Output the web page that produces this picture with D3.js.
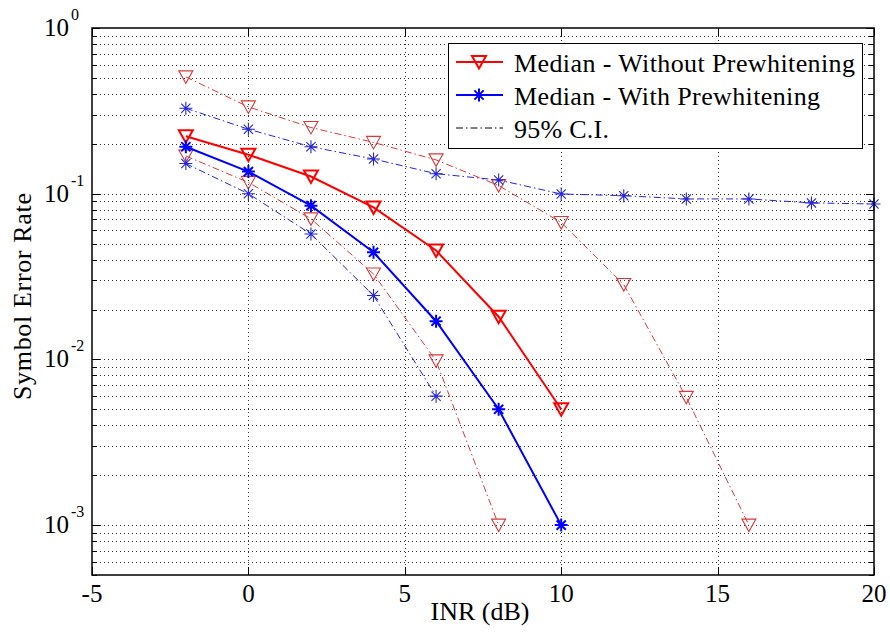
<!DOCTYPE html>
<html>
<head>
<meta charset="utf-8">
<script src="https://cdn.jsdelivr.net/npm/d3@7"></script>
<style>
  html, body { margin: 0; padding: 0; background: #fff; }
  svg { display: block; font-family: "Liberation Serif", "Times New Roman", serif; }
</style>
</head>
<body>
<svg id="chart" width="890" height="638"></svg>
<script>
// INR values (dB) at which the symbol error rate was measured
const inrMedian = [-2, 0, 2, 4, 6, 8, 10];
const medianWithout = [0.222, 0.172, 0.127, 0.0827, 0.0454, 0.0181, 0.0050];
const medianWith = [0.192, 0.136, 0.0847, 0.0443, 0.0170, 0.0050, 0.0010];

// 95% confidence interval bounds
const inrCiWithoutUpper = [-2, 0, 2, 4, 6, 8, 10, 12, 14, 16];
const ciWithoutUpper = [0.507, 0.334, 0.251, 0.204, 0.160, 0.112, 0.067, 0.0283, 0.0059, 0.0010];
const inrCiWithoutLower = [-2, 0, 2, 4, 6, 8];
const ciWithoutLower = [0.169, 0.117, 0.0705, 0.0328, 0.0098, 0.0010];
const inrCiWithUpper = [-2, 0, 2, 4, 6, 8, 10, 12, 14, 16, 18, 20];
const ciWithUpper = [0.328, 0.245, 0.192, 0.162, 0.132, 0.121, 0.0996, 0.0973, 0.093, 0.093, 0.088, 0.0867];
const inrCiWithLower = [-2, 0, 2, 4, 6];
const ciWithLower = [0.152, 0.100, 0.0571, 0.0243, 0.0060];

// Axis ticks
const xTicks = [-5, 0, 5, 10, 15, 20];
const yDecades = [0, -1, -2, -3];
const legendLabels = ["Median - Without Prewhitening", "Median - With Prewhitening", "95% C.I."];
const legendWidths = [341, 306, 95];

const RED = "#ff0000", BLUE = "#0000ff", CI_RED = "#d63a3a", CI_BLUE = "#2424d8";

const svg = d3.select("#chart");
const L = 92, R = 874, T = 28, B = 575;

const x = d3.scaleLinear().domain([-5, 20]).range([L, R]);
const y = d3.scaleLog().domain([5e-4, 1]).range([B, T]);

// Grid lines: every minor/major decade step and every x tick
const yGridVals = [];
for (let e = -4; e <= 0; e++) {
  for (let m = 1; m <= 9; m++) {
    const v = m * Math.pow(10, e);
    if (v >= 5e-4 - 1e-12 && v <= 1 + 1e-12) yGridVals.push(v);
  }
}
const grid = svg.append("g").attr("stroke", "#000").attr("stroke-width", 1)
  .attr("stroke-dasharray", "1,3").attr("fill", "none").attr("opacity", 0.8);
grid.selectAll("line.h").data(yGridVals.filter(v => v > 5e-4 + 1e-9 && v < 1 - 1e-9)).join("line")
  .attr("x1", L).attr("x2", R).attr("y1", d => Math.round(y(d)) + 0.5).attr("y2", d => Math.round(y(d)) + 0.5);
grid.selectAll("line.v").data(xTicks.slice(1, -1)).join("line")
  .attr("y1", T).attr("y2", B).attr("x1", d => Math.round(x(d)) + 0.5).attr("x2", d => Math.round(x(d)) + 0.5);

// Axis ticks (inside, mirrored on all sides)
const ticks = svg.append("g").attr("stroke", "#000").attr("stroke-width", 1);
xTicks.forEach(v => {
  const px = Math.round(x(v)) + 0.5;
  ticks.append("line").attr("x1", px).attr("x2", px).attr("y1", B).attr("y2", B - 8);
  ticks.append("line").attr("x1", px).attr("x2", px).attr("y1", T).attr("y2", T + 8);
});
yGridVals.forEach(v => {
  const py = Math.round(y(v)) + 0.5;
  const major = Math.abs(Math.log10(v) - Math.round(Math.log10(v))) < 1e-9;
  const len = major ? 8 : 5;
  ticks.append("line").attr("x1", L).attr("x2", L + len).attr("y1", py).attr("y2", py);
  ticks.append("line").attr("x1", R).attr("x2", R - len).attr("y1", py).attr("y2", py);
});

// Markers
function triangle(g, cx, cy, color, sw) {
  g.append("path")
    .attr("d", `M${cx - 7},${cy - 6}L${cx + 7},${cy - 6}L${cx},${cy + 6.5}Z`)
    .attr("fill", "none").attr("stroke", color).attr("stroke-width", sw)
    .attr("stroke-linejoin", "miter");
}
function star(g, cx, cy, color, sw, r) {
  const d = r * Math.SQRT1_2;
  g.append("path")
    .attr("d", `M${cx - r},${cy}L${cx + r},${cy}M${cx},${cy - r}L${cx},${cy + r}` +
               `M${cx - d},${cy - d}L${cx + d},${cy + d}M${cx - d},${cy + d}L${cx + d},${cy - d}`)
    .attr("fill", "none").attr("stroke", color).attr("stroke-width", sw);
}

const line = d3.line().x(d => x(d[0])).y(d => y(d[1]));
const DASHDOT = "7,3,1.5,3";

function series(xs, ys, color, sw, dash, marker, msw) {
  const pts = xs.map((v, i) => [v, ys[i]]);
  const g = svg.append("g");
  g.append("path").datum(pts).attr("d", line).attr("fill", "none")
    .attr("stroke", color).attr("stroke-width", sw)
    .attr("stroke-dasharray", dash || null);
  pts.forEach(p => {
    if (marker === "tri") triangle(g, x(p[0]), y(p[1]), color, msw);
    else star(g, x(p[0]), y(p[1]), color, msw, 6.5);
  });
}

// Confidence-interval curves (thin dash-dot)
series(inrCiWithoutUpper, ciWithoutUpper, CI_RED, 1, DASHDOT, "tri", 1.1);
series(inrCiWithoutLower, ciWithoutLower, CI_RED, 1, DASHDOT, "tri", 1.1);
series(inrCiWithUpper, ciWithUpper, CI_BLUE, 1, DASHDOT, "star", 1.1);
series(inrCiWithLower, ciWithLower, CI_BLUE, 1, DASHDOT, "star", 1.1);

// Median curves (solid)
series(inrMedian, medianWithout, RED, 2, null, "tri", 2);
series(inrMedian, medianWith, BLUE, 2, null, "star", 2);

// Axes box
svg.append("rect").attr("x", L).attr("y", T).attr("width", R - L).attr("height", B - T)
  .attr("fill", "none").attr("stroke", "#000").attr("stroke-width", 1.5);

// X tick labels
svg.append("g").selectAll("text").data(xTicks).join("text")
  .attr("x", d => x(d)).attr("y", B + 27).attr("text-anchor", "middle")
  .attr("font-size", 25).text(d => d);

// Y tick labels: 10 with superscript exponent
yDecades.forEach(e => {
  const py = y(Math.pow(10, e));
  svg.append("text").attr("x", 69).attr("y", py + 8).attr("text-anchor", "end")
    .attr("font-size", 25).text("10");
  svg.append("text").attr("x", 71).attr("y", py - 8).attr("text-anchor", "start")
    .attr("font-size", 16).text(e);
});

// Axis titles
svg.append("text").attr("x", (L + R) / 2 - 3).attr("y", 620).attr("text-anchor", "middle")
  .attr("font-size", 26).text("INR (dB)");
svg.append("text").attr("transform", `translate(31,${(T + B) / 2 - 5}) rotate(-90)`)
  .attr("text-anchor", "middle").attr("font-size", 26)
  .attr("textLength", 207).attr("lengthAdjust", "spacing").text("Symbol Error Rate");

// Legend
const lg = svg.append("g");
lg.append("rect").attr("x", 448.5).attr("y", 43.5).attr("width", 414).attr("height", 105)
  .attr("fill", "#fff").attr("stroke", "#000").attr("stroke-width", 1);
const rows = [
  { color: RED, sw: 2, dash: null, marker: "tri" },
  { color: BLUE, sw: 2, dash: null, marker: "star" },
  { color: "#000", sw: 1, dash: DASHDOT, marker: null }
];
rows.forEach((r, i) => {
  const cy = 62 + i * 33;
  lg.append("line").attr("x1", 456).attr("x2", 503).attr("y1", cy).attr("y2", cy)
    .attr("stroke", r.color).attr("stroke-width", r.sw).attr("stroke-dasharray", r.dash);
  if (r.marker === "tri") triangle(lg, 479, cy, r.color, 2);
  if (r.marker === "star") star(lg, 479, cy, r.color, 2, 6.5);
  lg.append("text").attr("x", 514).attr("y", cy + 10).attr("font-size", 26)
    .attr("textLength", legendWidths[i]).attr("lengthAdjust", "spacing").text(legendLabels[i]);
});
</script>
</body>
</html>
